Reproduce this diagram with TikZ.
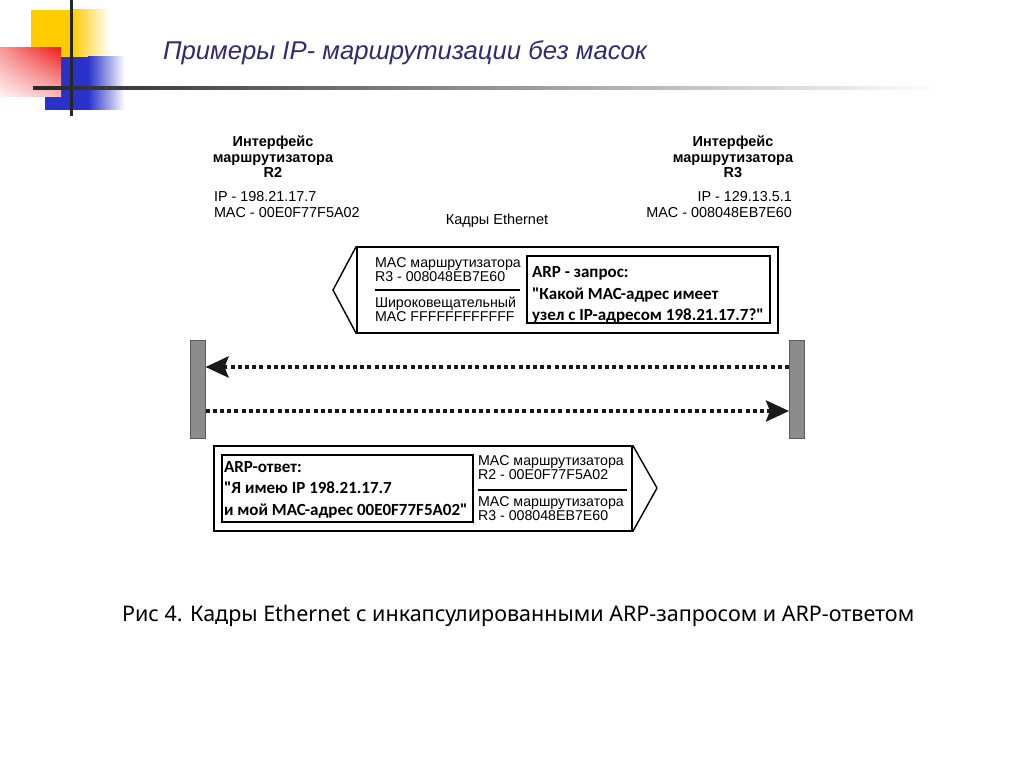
\documentclass[tikz,border=0pt]{standalone}
\usepackage{fontspec}
\setmainfont{Liberation Sans}
\newfontfamily\arpfont{Carlito}
\newfontfamily\capfont{Noto Sans}
\usetikzlibrary{arrows.meta, shadings}
\definecolor{titleblue}{RGB}{46,44,112}
\definecolor{decoyellow}{RGB}{255,204,0}
\definecolor{decoblue}{RGB}{40,50,200}
\definecolor{decored}{RGB}{238,30,30}
\definecolor{bargray}{RGB}{140,140,140}

\begin{document}
\begin{tikzpicture}[x=1pt, y=-1pt,
    txt/.style={inner sep=0pt, outer sep=0pt, font=\fontsize{14.2}{14}\selectfont},
    head/.style={txt, align=center, font=\fontsize{14.5}{15.5}\selectfont\bfseries},
    addr/.style={txt, font=\fontsize{14.4}{16}\selectfont},
    arp/.style={txt, align=left, font=\fontsize{17}{21.5}\selectfont\arpfont\bfseries},
    frame/.style={draw, line width=1.4pt, inner sep=0pt, minimum width=#1},
    arpbox/.style={draw, line width=2.2pt, inner sep=0pt, minimum width=#1, minimum height=67pt},
    bar/.style={draw=black!65, fill=bargray, line width=1pt, minimum width=15pt, minimum height=98pt, inner sep=0pt},
    dotline/.style={line width=4pt, black!90, dash pattern=on 4pt off 3.2pt,
        -{Stealth[length=23pt, width=21pt, inset=4pt]}}]
    \useasboundingbox (0,0) rectangle (1024,767);

    % slide decoration
    \fill[decoyellow] (31,10) rectangle (72,57);
    \shade[left color=decoyellow, right color=white] (72,10) rectangle (110,57);
    \fill[decoblue] (45,57) rectangle (88,110);
    \shade[left color=decoblue, right color=white] (88,57) rectangle (125,110);
    \shade[upper left=decored!45, upper right=decored, lower left=decored!5, lower right=decored!30] (0,48) rectangle (61,97);
    \draw[line width=3pt, black!85] (71,0) -- (71,116);
    \shade[left color=black!85, middle color=black!40, right color=white] (33,86.5) rectangle (940,89.5);

    \node[txt, anchor=base west, text=titleblue, font=\fontsize{25.7}{30}\selectfont\itshape] (title) at (163,60) {Примеры IP- маршрутизации без масок};

    % interfaces
    \node[head, anchor=north] (r2head) at (273,136) {Интерфейс\\маршрутизатора\\R2};
    \node[addr, anchor=north west, align=left] (r2addr) at (214,191) {IP - 198.21.17.7\\MAC - 00E0F77F5A02};
    \node[head, anchor=north] (r3head) at (733,136) {Интерфейс\\маршрутизатора\\R3};
    \node[addr, anchor=north east, align=right] (r3addr) at (792,191) {IP - 129.13.5.1\\MAC - 008048EB7E60};
    \node[txt, anchor=base, font=\fontsize{14.5}{16}\selectfont] (frames) at (497,225) {Кадры Ethernet};

    % ARP request frame
    \node[frame=421pt, minimum height=86pt] (reqframe) at (567.5,290) {};
    \coordinate (reqtip) at (333,290);
    \draw[line width=1.4pt] (reqframe.north west) -- (reqtip) -- (reqframe.south west);
    \node[txt, anchor=north west, align=left] (reqdst) at (375,258) {MAC маршрутизатора\\R3 - 008048EB7E60};
    \draw[line width=1.2pt] (375,290) -- (520,290);
    \node[txt, anchor=north west, align=left] (reqsrc) at (375,297) {Широковещательный\\MAC FFFFFFFFFFFF};
    \node[arpbox=243pt] (reqbox) at (648.5,289.5) {};
    \node[arp, anchor=north west] (reqtext) at (532,266.5) {ARP - запрос:\\"Какой MAC-адрес имеет\\узел с IP-адресом 198.21.17.7?"};

    % router ports
    \node[bar] (r2bar) at (197.5,389) {};
    \node[bar] (r3bar) at (797,389) {};
    \draw[dotline] ([yshift=22pt]r3bar.west) -- ([yshift=22pt]r2bar.east);
    \draw[dotline] ([yshift=-22pt]r2bar.east) -- ([yshift=-22pt]r3bar.west);

    % ARP reply frame
    \node[frame=418pt, minimum height=85pt] (repframe) at (423,488.5) {};
    \coordinate (reptip) at (657,488);
    \draw[line width=1.4pt] (repframe.north east) -- (reptip) -- (repframe.south east);
    \node[arpbox=251pt] (repbox) at (347.5,488.5) {};
    \node[arp, anchor=north west] (reptext) at (224,461) {ARP-ответ:\\"Я имею IP 198.21.17.7\\и мой MAC-адрес 00E0F77F5A02"};
    \node[txt, anchor=north west, align=left] (repdst) at (478,456) {MAC маршрутизатора\\R2 - 00E0F77F5A02};
    \draw[line width=1.2pt] (478,490) -- (627,490);
    \node[txt, anchor=north west, align=left] (repsrc) at (478,497) {MAC маршрутизатора\\R3 - 008048EB7E60};

    \node[txt, anchor=base west, font=\fontsize{21.5}{25}\selectfont\capfont] (caption) at (122,621) {Рис 4. Кадры Ethernet с инкапсулированными ARP-запросом и ARP-ответом};
\end{tikzpicture}
\end{document}
